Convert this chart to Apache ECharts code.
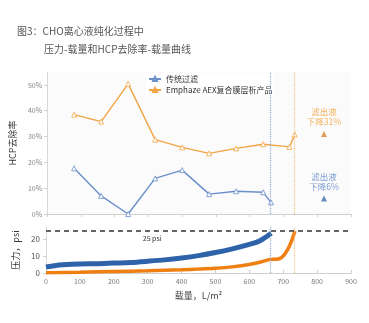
<!DOCTYPE html>
<html><head><meta charset="utf-8">
<script src="https://cdn.jsdelivr.net/npm/echarts@6/dist/echarts.min.js"></script>
<style>html,body{margin:0;padding:0;background:#fff}#c{width:369px;height:323px}</style>
</head><body><div id="c"></div>
<script>
// HCP removal (%) vs load (L/m2)
var convLoad = [80, 160, 240, 320, 400, 480, 560, 640, 663];
var convHcp  = [17.7, 7, 0, 13.8, 17, 7.7, 8.8, 8.4, 4.5];
var emphLoad = [80, 160, 240, 320, 400, 480, 560, 640, 718, 733];
var emphHcp  = [38.5, 35.8, 50.4, 28.8, 25.8, 23.5, 25.4, 27, 26, 30.8];
// filtrate reduction markers
var filtLoad = 820;
var filtEmph = 31;
var filtConv = 6;
// pressure (psi) vs load
var pConvLoad = [0, 25, 50, 100, 150, 200, 250, 300, 350, 400, 450, 500, 550, 600, 630, 665];
var pConv     = [3.5, 4.3, 4.8, 5.3, 5.4, 5.8, 6.2, 6.9, 7.7, 8.8, 10.2, 12.0, 14.2, 16.8, 18.8, 23.3];
var pEmphLoad = [0, 100, 200, 300, 400, 450, 500, 550, 600, 640, 660, 670, 685, 700, 715, 725, 735];
var pEmph     = [0.2, 0.5, 0.9, 1.3, 1.9, 2.3, 2.8, 3.6, 5.0, 6.8, 7.9, 8.0, 8.2, 10, 14.5, 19, 24.7];
var endConv = 662, endEmph = 733, limitPsi = 25;
var legendNames = ['传统过滤', 'Emphaze AEX复合膜层析产品'];

function pairs(xs, ys){ return xs.map(function(x,i){ return [x, ys[i]]; }); }
var F = '"Noto Sans CJK SC","Noto Sans",sans-serif';
var cBlueL = '#6A8FCB', cOrL = '#F2A444', cBlueP = '#2F63A9', cOrP = '#F07F12';

var chart = echarts.init(document.getElementById('c'));
var vline = function(x, color){
  return {silent:true, symbol:'none', label:{show:false},
    lineStyle:{type:'dotted', color:color, width:1.2}, data:[{xAxis:x}]};
};
chart.setOption({
  animation:false,
  textStyle:{fontFamily:F},
  title:[
    {text:'图3：CHO离心液纯化过程中', left:12, top:21, textStyle:{fontSize:10, fontWeight:'normal', color:'#555', fontFamily:F}},
    {text:'压力-载量和HCP去除率-载量曲线', left:39, top:39, textStyle:{fontSize:10, fontWeight:'normal', color:'#555', fontFamily:F}}
  ],
  legend:{data:legendNames, orient:'vertical', left:146, top:73, itemGap:3, padding:[2,2,2,2],
    itemWidth:12, itemHeight:5, backgroundColor:'#fff',
    textStyle:{fontSize:8, color:'#333', fontFamily:F}},
  grid:[
    {left:46, right:18, top:72, height:142, show:true, backgroundColor:'#fbfbfb', borderWidth:0},
    {left:46, right:18, top:227, height:46}
  ],
  xAxis:[
    {gridIndex:0, type:'value', min:0, max:900, interval:100,
      axisLine:{lineStyle:{color:'#cfcfcf'}}, axisTick:{show:true, length:3, lineStyle:{color:'#cfcfcf'}},
      axisLabel:{show:false}, splitLine:{show:false}},
    {gridIndex:1, type:'value', min:0, max:900, interval:100,
      name:'载量，L/m²', nameLocation:'middle', nameGap:18,
      nameTextStyle:{fontSize:9, color:'#444', fontFamily:F},
      axisLine:{lineStyle:{color:'#cfcfcf'}}, axisTick:{show:true, inside:true, length:3, lineStyle:{color:'#cfcfcf'}},
      axisLabel:{fontSize:7, color:'#777', margin:5}, splitLine:{show:false}}
  ],
  yAxis:[
    {gridIndex:0, type:'value', min:0, max:55, interval:10,
      name:'HCP去除率', nameLocation:'middle', nameGap:23, nameRotate:90,
      nameTextStyle:{fontSize:9, color:'#333', fontFamily:F},
      axisLine:{show:true, lineStyle:{color:'#d8d8d8'}}, axisTick:{show:true, length:3, lineStyle:{color:'#cfcfcf'}},
      axisLabel:{fontSize:7, color:'#888', formatter:'{value}%', showMaxLabel:false, margin:5},
      splitLine:{show:false}},
    {gridIndex:1, type:'value', min:0, max:27, interval:10,
      name:'压力，psi', nameLocation:'middle', nameGap:22, nameRotate:90,
      nameTextStyle:{fontSize:9, color:'#333', fontFamily:F},
      axisLine:{show:true, lineStyle:{color:'#d8d8d8'}}, axisTick:{show:true, length:3, lineStyle:{color:'#cfcfcf'}},
      axisLabel:{fontSize:8, color:'#555', showMaxLabel:false, margin:6},
      splitLine:{show:false}}
  ],
  series:[
    {name:legendNames[0], type:'line', xAxisIndex:0, yAxisIndex:0, data:pairs(convLoad, convHcp),
      symbol:'triangle', symbolSize:5, color:cBlueL, lineStyle:{width:1.4, color:cBlueL},
      itemStyle:{color:'#fff', borderColor:cBlueL, borderWidth:0.8}, z:3, markLine:vline(endConv, '#8FA9DA')},
    {name:legendNames[1], type:'line', xAxisIndex:0, yAxisIndex:0, data:pairs(emphLoad, emphHcp),
      symbol:'triangle', symbolSize:5, color:cOrL, lineStyle:{width:1.4, color:cOrL},
      itemStyle:{color:'#fff', borderColor:cOrL, borderWidth:0.8}, z:3, markLine:vline(endEmph, '#F5BE7A')},
    {name:'filtEmph', type:'scatter', xAxisIndex:0, yAxisIndex:0, data:[[filtLoad, filtEmph]],
      symbol:'triangle', symbolSize:6, itemStyle:{color:'#D9892E'},
      label:{show:true, position:'top', distance:4, formatter:'滤出液\n下降31%', fontSize:8.5, lineHeight:10, color:'#F2A03A', fontFamily:F}},
    {name:'filtConv', type:'scatter', xAxisIndex:0, yAxisIndex:0, data:[[filtLoad, filtConv]],
      symbol:'triangle', symbolSize:6, itemStyle:{color:'#3F6FB5'},
      label:{show:true, position:'top', distance:4, formatter:'滤出液\n下降6%', fontSize:8.5, lineHeight:10, color:'#5F88C8', fontFamily:F}},
    {name:'pConv', type:'line', xAxisIndex:1, yAxisIndex:1, data:pairs(pConvLoad, pConv),
      symbol:'none', smooth:0.3, lineStyle:{width:5, color:cBlueP}, z:3,
      markLine:vline(endConv, '#8FA9DA')},
    {name:'pEmph', type:'line', xAxisIndex:1, yAxisIndex:1, data:pairs(pEmphLoad, pEmph),
      symbol:'none', smooth:0.3, lineStyle:{width:3.5, color:cOrP}, z:3,
      markLine:{silent:true, symbol:'none', data:[{yAxis:limitPsi, lineStyle:{type:[5,4], color:'#333', width:1.5}, label:{show:false}},
        {xAxis:endEmph, lineStyle:{type:'dotted', color:'#F5BE7A', width:1.2}, label:{show:false}}]}}
  ]
});
var p = chart.convertToPixel({xAxisIndex:1, yAxisIndex:1}, [315, limitPsi]);
chart.setOption({graphic:[{type:'text', x:p[0]-10, y:p[1]+4, silent:true,
  style:{text:'25 psi', fontSize:7, fill:'#333', fontFamily:F}}]});
</script></body></html>
